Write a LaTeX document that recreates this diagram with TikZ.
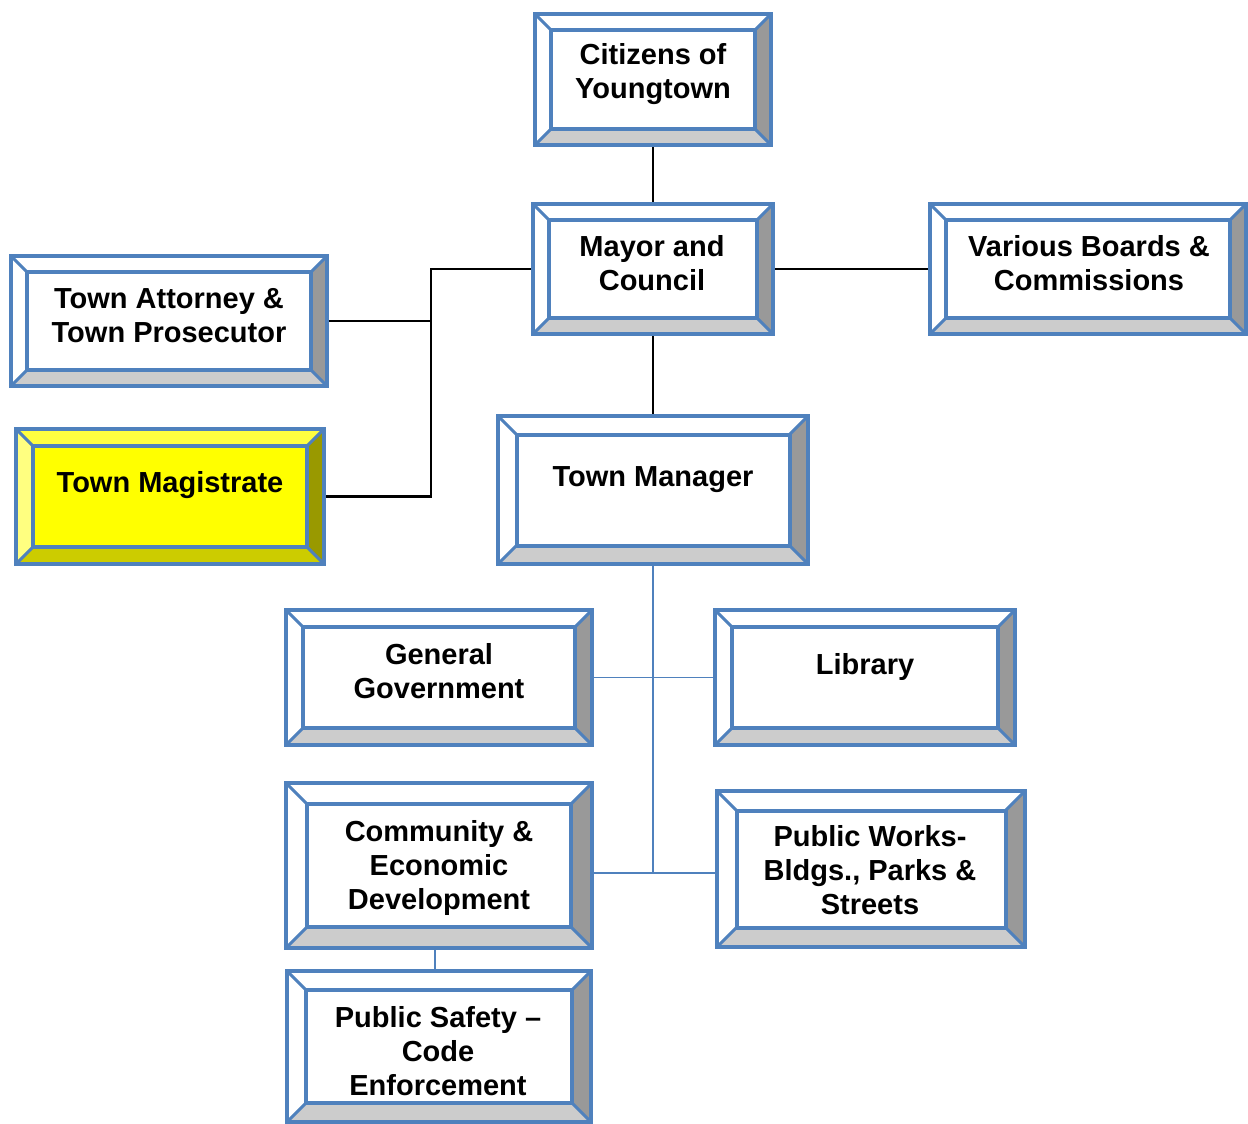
\documentclass[tikz,border=0pt]{standalone}
\usepackage{fontspec}
\setmainfont{Liberation Sans}
\usetikzlibrary{backgrounds, calc}

\definecolor{boxblue}{RGB}{79,129,189}
\definecolor{shadeR}{RGB}{153,153,153}
\definecolor{shadeB}{RGB}{204,204,204}
\definecolor{magFace}{RGB}{255,255,0}
\definecolor{magTop}{RGB}{255,255,64}
\definecolor{magLeft}{RGB}{255,255,128}
\definecolor{magRight}{RGB}{153,153,0}
\definecolor{magBottom}{RGB}{204,204,0}

\begin{document}
\begin{tikzpicture}[x=0.5pt,y=-0.5pt,
    bevel top/.store in=\bevtop, bevel left/.store in=\bevleft,
    bevel right/.store in=\bevright, bevel bottom/.store in=\bevbottom,
    bevel face/.store in=\bevface,
    bevel top=white, bevel left=white, bevel right=shadeR,
    bevel bottom=shadeB, bevel face=white]
  \tikzset{
    orgbox/.style={rectangle, draw=boxblue, line width=2pt, inner sep=0pt,
      path picture={
        \path let \p1=(path picture bounding box.south west),
                  \p2=(path picture bounding box.north east),
                  \n1={0.125*(\y2-\y1)} in
          (\x1,\y2) coordinate (oA) (\x2,\y2) coordinate (oB)
          (\x2,\y1) coordinate (oC) (\x1,\y1) coordinate (oD)
          (\x1+\n1,\y2-\n1) coordinate (iA) (\x2-\n1,\y2-\n1) coordinate (iB)
          (\x2-\n1,\y1+\n1) coordinate (iC) (\x1+\n1,\y1+\n1) coordinate (iD);
        \fill[\bevtop] (oA) -- (oB) -- (iB) -- (iA) -- cycle;
        \fill[\bevright] (oB) -- (oC) -- (iC) -- (iB) -- cycle;
        \fill[\bevbottom] (oC) -- (oD) -- (iD) -- (iC) -- cycle;
        \fill[\bevleft] (oD) -- (oA) -- (iA) -- (iD) -- cycle;
        \draw[boxblue, line width=2pt, fill=\bevface] (iA) rectangle (iC);
        \draw[boxblue, line width=1.5pt] (oA) -- (iA) (oB) -- (iB) (oC) -- (iC) (oD) -- (iD);
      }},
    magbox/.style={orgbox, bevel top=magTop, bevel left=magLeft,
      bevel right=magRight, bevel bottom=magBottom, bevel face=magFace},
    boxtext/.style={align=center, inner sep=0pt,
      font=\fontsize{14.5}{17}\selectfont\bfseries},
    boss/.style={draw=black, line width=1.2pt},
    staff/.style={draw=boxblue, line width=0.85pt}
  }
  \useasboundingbox (0,0) rectangle (1248,1124);

  % Boxes
  \node[orgbox, minimum width=118pt, minimum height=65.5pt] (citizens) at (653,79.5) {};
  \node[orgbox, minimum width=120pt, minimum height=65pt] (mayor) at (653,269) {};
  \node[orgbox, minimum width=158pt, minimum height=65pt] (boards) at (1088,269) {};
  \node[orgbox, minimum width=158pt, minimum height=65pt] (attorney) at (169,321) {};
  \node[magbox, minimum width=154pt, minimum height=67.5pt] (magistrate) at (170,496.5) {};
  \node[orgbox, minimum width=155pt, minimum height=74pt] (manager) at (653,490) {};
  \node[orgbox, minimum width=153pt, minimum height=67.5pt] (general) at (439,677.5) {};
  \node[orgbox, minimum width=150pt, minimum height=67.5pt] (library) at (865,677.5) {};
  \node[orgbox, minimum width=153pt, minimum height=82.5pt] (community) at (439,865.5) {};
  \node[orgbox, minimum width=154pt, minimum height=78pt] (works) at (871,869) {};
  \node[orgbox, minimum width=152pt, minimum height=75.5pt] (safety) at (439,1046.5) {};

  % Texts
  \node[boxtext] (citizensT) at (653,74) {Citizens of\\Youngtown};
  \node[boxtext] (mayorT) at (652,263) {Mayor and\\Council};
  \node[boxtext] (boardsT) at (1089,263) {Various Boards \&\\Commissions};
  \node[boxtext] (attorneyT) at (169,316) {Town Attorney \&\\Town Prosecutor};
  \node[boxtext] (magistrateT) at (170,485) {Town Magistrate};
  \node[boxtext] (managerT) at (653,480) {Town Manager};
  \node[boxtext] (generalT) at (439,671) {General\\Government};
  \node[boxtext] (libraryT) at (865,667) {Library};
  \node[boxtext] (communityT) at (439,868) {Community \&\\Economic\\Development};
  \node[boxtext] (worksT) at (870,870) {Public Works-\\Bldgs., Parks \&\\Streets};
  \node[boxtext] (safetyT) at (438,1051) {Public Safety --\\Code\\Enforcement};

  % Lines
  \coordinate (legal) at (431,269);
  \coordinate (deptend) at (653,873);
  \begin{scope}[on background layer]
    \draw[boss] (citizens) -- (mayor);
    \draw[boss] (mayor) -- (boards);
    \draw[boss] (mayor) -- (manager);
    \draw[boss] (mayor.west) -- (legal) |- (magistrate.east);
    \draw[boss] (attorney.east) -- (attorney.east -| legal);
    \draw[staff] (manager.south) -- (deptend);
    \draw[staff] (general.east) -- (library.west);
    \draw[staff] (community.east |- deptend) -- (deptend -| works.west);
    \draw[staff] ([xshift=-2pt]community.south) -- ([xshift=-2pt]safety.north);
  \end{scope}
\end{tikzpicture}
\end{document}
